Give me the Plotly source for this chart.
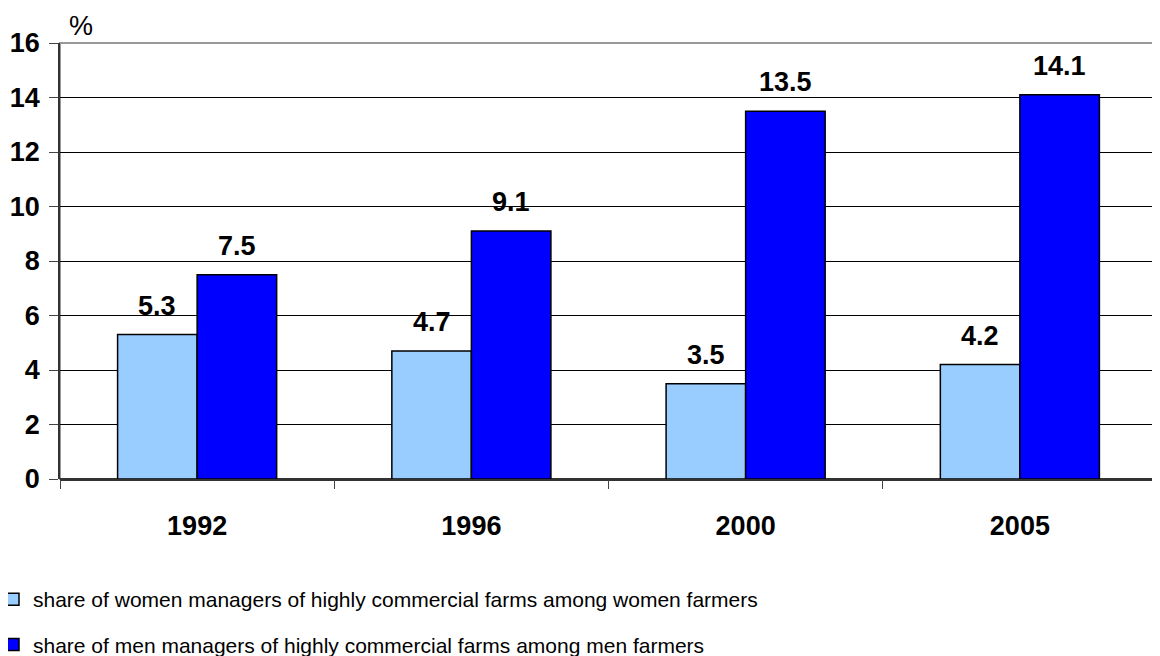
import plotly.graph_objects as go

years = ["1992", "1996", "2000", "2005"]
women = [5.3, 4.7, 3.5, 4.2]
men = [7.5, 9.1, 13.5, 14.1]
women_name = "share of women managers of highly commercial farms among women farmers"
men_name = "share of men managers of highly commercial farms among men farmers"
y_ticks = [0, 2, 4, 6, 8, 10, 12, 14, 16]

FONT = "Liberation Sans, Arial, sans-serif"
# page body has an 8px margin, so the figure is sized to fit the window
W, H = 1152, 648
ML, MR, MT, MB = 52, 3, 35, 177
BARGAP = 0.42

plot_w = W - ML - MR
plot_h = H - MT - MB
group_w = plot_w / len(years)
bar_w = group_w * (1 - BARGAP) / 2

fig = go.Figure()
fig.add_trace(go.Bar(
    x=years, y=women, name=women_name, legendgroup="w",
    marker=dict(color="#99CCFF", line=dict(color="black", width=1.5)),
))
fig.add_trace(go.Bar(
    x=years, y=men, name=men_name, legendgroup="m",
    marker=dict(color="#0000FF", line=dict(color="black", width=1.5)),
))

annotations = []
for vals, side in ((women, -1), (men, 1)):
    for i, v in enumerate(vals):
        annotations.append(dict(
            x=i, y=v, xref="x", yref="y", text=f"<b>{v:.1f}</b>",
            showarrow=False, xanchor="center", yanchor="bottom",
            xshift=side * bar_w / 2, yshift=12,
            font=dict(family=FONT, size=27, color="black"),
        ))
annotations.append(dict(
    text="%", xref="paper", yref="paper", x=(73 - ML) / plot_w, y=1.0,
    yshift=0, xanchor="center", yanchor="bottom", showarrow=False,
    font=dict(family=FONT, size=27, color="black"),
))

fig.update_layout(
    width=W, height=H,
    margin=dict(l=ML, r=MR, t=MT, b=MB, autoexpand=False),
    paper_bgcolor="white", plot_bgcolor="white",
    barmode="group", bargap=BARGAP, bargroupgap=0,
    font=dict(family=FONT, color="black"),
    showlegend=True,
    legend=dict(
        orientation="v", x=(-15 - ML) / plot_w, xanchor="left",
        y=-(100 / plot_h), yanchor="top",
        font=dict(family=FONT, size=21, color="black"),
        traceorder="grouped", tracegroupgap=15,
        bgcolor="rgba(0,0,0,0)",
    ),
    xaxis=dict(
        type="category", range=[-0.5, len(years) - 0.5], autorange=False,
        tickson="boundaries", ticks="outside", ticklen=9,
        tickcolor="#444", showline=False, showgrid=False,
        tickfont=dict(family=FONT, size=27, color="black", weight="bold"),
        ticklabelstandoff=28, tickangle=0,
    ),
    yaxis=dict(
        range=[0, 16], autorange=False, tickvals=y_ticks, ticks="outside", ticklen=9,
        tickcolor="#444", showline=True, linecolor="#333", linewidth=1.5,
        showgrid=True, gridcolor="black", gridwidth=1,
        zeroline=True, zerolinecolor="#333", zerolinewidth=2.5,
        tickfont=dict(family=FONT, size=27, color="black", weight="bold"),
        ticklabelstandoff=4,
    ),
    shapes=[dict(
        type="rect", xref="paper", yref="paper", x0=0, x1=1, y0=0, y1=1,
        line=dict(color="#999999", width=2), layer="below",
    )],
    annotations=annotations,
)

fig.write_html("out.html")
